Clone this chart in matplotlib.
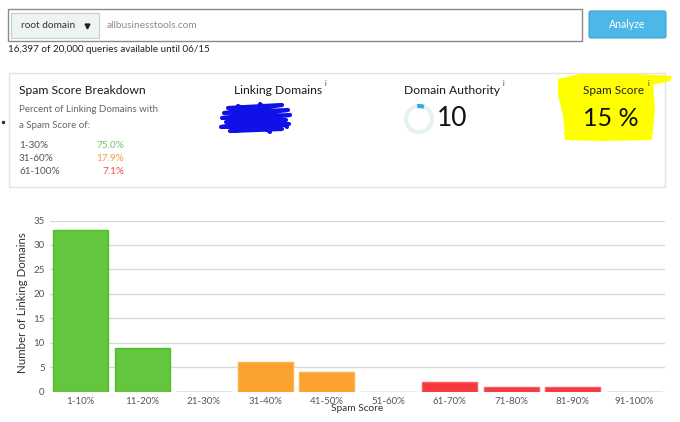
import matplotlib
matplotlib.use("Agg")
import matplotlib.pyplot as plt
from matplotlib.patches import Rectangle, FancyBboxPatch, Polygon, Circle, Arc

plt.rcParams['font.family'] = ['Lato', 'DejaVu Sans']

# ── data ────────────────────────────────────────────────────────────────────
buckets = ['1-10%', '11-20%', '21-30%', '31-40%', '41-50%',
           '51-60%', '61-70%', '71-80%', '81-90%', '91-100%']
domains = [33, 9, 0, 6, 4, 0, 2, 1, 1, 0]
bar_faces = ['#63c63d'] * 3 + ['#fba130'] * 3 + ['#f4383f'] * 4
bar_edges = ['#52bd2a'] * 3 + ['#fdb14f'] * 3 + ['#ff5c62'] * 4

breakdown_ranges = ['1-30%', '31-60%', '61-100%']
breakdown_pcts = ['75.0%', '17.9%', '7.1%']
breakdown_colors = ['#78c26a', '#f79a44', '#f0504a']

domain_authority = 10
spam_score = 15
queries_left, queries_total, until = '16,397', '20,000', '06/15'

W, H = 680, 422
fig = plt.figure(figsize=(W / 100, H / 100), dpi=100)

# ── page / UI layer in pixel coordinates ────────────────────────────────────
ui = fig.add_axes([0, 0, 1, 1])
ui.set_xlim(0, W)
ui.set_ylim(H, 0)
ui.axis('off')

# search bar
ui.add_patch(Rectangle((8, 9), 574, 32, fill=False, ec='#8a8a8a', lw=1))
ui.add_patch(Rectangle((11, 13), 88, 25, fc='#eef4f2', ec='#c5cfcd', lw=0.8))
ui.text(21, 25, 'root domain', fontsize=7.3, color='#333333', va='center')
ui.plot([87], [26], marker='v', ms=3.5, color='#222222')
ui.text(107, 25, 'allbusinesstools.com', fontsize=7.3, color='#8c8c8c', va='center')
ui.add_patch(FancyBboxPatch((589, 11), 77, 27, boxstyle='round,pad=0,rounding_size=2',
                            fc='#4bb8e8', ec='#3aa3d2', lw=0.8))
ui.text(627.5, 24.5, 'Analyze', fontsize=7.6, color='white', ha='center', va='center')
ui.text(8, 49, f'{queries_left} of {queries_total} queries available until {until}',
        fontsize=7.1, color='#222222', va='center')

# metrics card
ui.add_patch(Rectangle((9, 73), 656, 114, fill=False, ec='#e0e4e4', lw=1))
ui.plot([2.5], [122], marker='o', ms=1.5, color='#333333')

ui.text(19, 90.5, 'Spam Score Breakdown', fontsize=8.7, color='#1a1a1a', va='center')
ui.text(19, 110, 'Percent of Linking Domains with', fontsize=7.0, color='#666666', va='center')
ui.text(19, 125, 'a Spam Score of:', fontsize=7.0, color='#666666', va='center')
for i, (rng, pct, col) in enumerate(zip(breakdown_ranges, breakdown_pcts, breakdown_colors)):
    y = 145 + i * 13.5
    ui.text(19, y, rng, fontsize=7.2, color='#555555', va='center')
    ui.text(124, y, pct, fontsize=7.2, color=col, va='center', ha='right')

# Linking Domains (value scribbled out)
ui.text(278, 90.5, 'Linking Domains', fontsize=8.7, color='#1a1a1a', va='center', ha='center')
ui.text(325, 83, 'i', fontsize=5, color='#333333', va='center')
scribble = [(228, 108), (282, 105), (224, 113), (288, 110), (222, 118), (290, 115),
            (226, 122), (286, 120), (221, 127), (289, 124), (230, 131), (282, 129),
            (238, 106), (270, 132), (260, 104), (287, 127)]
sx, sy = zip(*scribble)
ui.plot(sx, sy, color='#1010e8', lw=3.0, solid_capstyle='round', solid_joinstyle='round')

# Domain Authority
ui.text(452.5, 90.5, 'Domain Authority', fontsize=8.7, color='#1a1a1a', va='center', ha='center')
ui.text(503, 83, 'i', fontsize=5, color='#333333', va='center')
ui.add_patch(Circle((419, 119), 13, fill=False, ec='#e8f1f2', lw=3))
ui.add_patch(Arc((419, 119), 26, 26, theta1=262, theta2=292, ec='#3aa8e0', lw=3))
ui.text(437, 118, str(domain_authority), fontsize=19, color='#111111', va='center')

# Spam Score (highlighted)
ui.add_patch(Polygon([(558, 79), (580, 74), (640, 74), (672, 76), (670, 81), (653, 85),
                      (655, 110), (652, 140), (600, 141), (565, 140), (563, 115),
                      (558, 95)],
                     closed=True, fc='#ffff00', ec='none'))
ui.text(614, 91, 'Spam Score', fontsize=8.5, color='#222222', va='center', ha='center')
ui.text(648, 83, 'i', fontsize=5, color='#333333', va='center')
ui.text(611, 119, f'{spam_score} %', fontsize=18, color='#111111', va='center', ha='center')

# ── bar chart ───────────────────────────────────────────────────────────────
ax = fig.add_axes([50 / W, (H - 391.5) / H, 615 / W, 171 / H])
ax.set_facecolor('none')
xs = range(len(buckets))
ax.bar(xs, domains, width=0.89, color=bar_faces, edgecolor=bar_edges, lw=1, zorder=3)
ax.set_xlim(-0.5, len(buckets) - 0.5)
ax.set_ylim(0, 35)
ax.set_yticks(range(0, 36, 5))
ax.set_xticks(list(xs))
ax.set_xticklabels(buckets)
ax.tick_params(axis='both', length=0, labelsize=7, labelcolor='#555555')
ax.tick_params(axis='y', pad=3.8)
ax.tick_params(axis='x', pad=4)
ax.grid(axis='y', color='#d6dada', lw=1, zorder=0)
for s in ax.spines.values():
    s.set_visible(False)
ax.set_ylabel('Number of Linking Domains', fontsize=8.3, color='#333333')
ax.yaxis.set_label_coords(-0.036, 0.52)
ax.text(0.499, -0.1, 'Spam Score', transform=ax.transAxes, ha='center', va='center',
        fontsize=7.3, color='#333333')

fig.savefig('out.png', dpi=100)
